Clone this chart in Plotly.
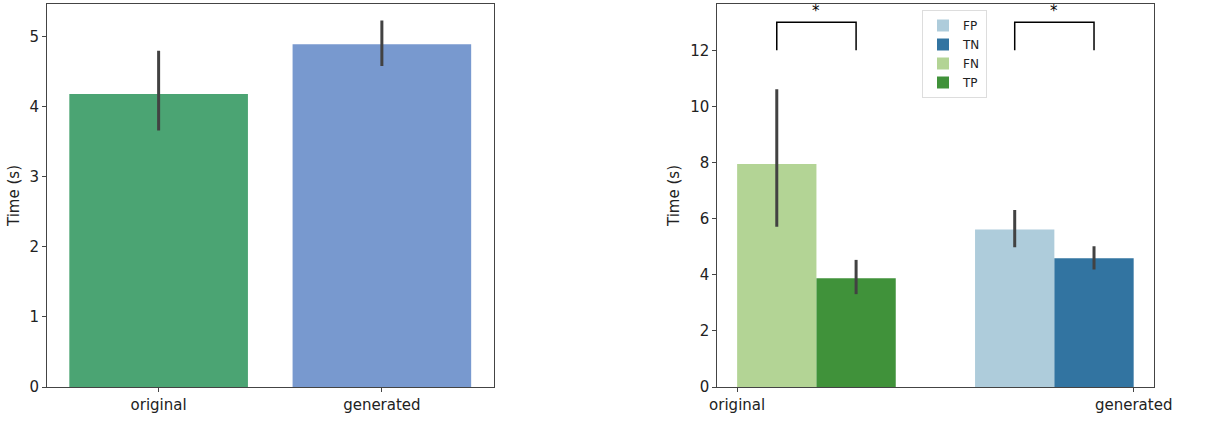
import plotly.graph_objects as go

# ---- data ----
left_categories = ["original", "generated"]
left_values = [4.18, 4.89]
left_err_hi = [4.80, 5.23]
left_err_lo = [3.66, 4.58]
left_colors = ["#4ba473", "#7899cf"]

right_categories = ["original", "generated"]
hue_order = ["FP", "TN", "FN", "TP"]
hue_category = {"FP": "generated", "TN": "generated", "FN": "original", "TP": "original"}
hue_values = {"FP": 5.61, "TN": 4.59, "FN": 7.95, "TP": 3.88}
hue_err_hi = {"FP": 6.31, "TN": 5.02, "FN": 10.61, "TP": 4.53}
hue_err_lo = {"FP": 4.98, "TN": 4.19, "FN": 5.71, "TP": 3.31}
hue_colors = {"FP": "#aeccdb", "TN": "#3274a1", "FN": "#b3d495", "TP": "#40923a"}
sig_pairs = [("FN", "TP"), ("FP", "TN")]
sig_low, sig_high = 12, 13

W, H = 1231, 421
FONT = "DejaVu Sans"
ERRC = "#424242"

def px_x(a, b):
    return [a / W, b / W]

def px_y(top, bottom):
    return [(H - bottom) / H, (H - top) / H]

fig = go.Figure()

# left plot
lx = list(range(len(left_categories)))
fig.add_trace(go.Bar(
    x=lx, y=left_values, width=0.8, marker=dict(color=left_colors, line=dict(width=0)),
    error_y=dict(type="data", symmetric=False,
                 array=[h - v for h, v in zip(left_err_hi, left_values)],
                 arrayminus=[v - l for l, v in zip(left_err_lo, left_values)],
                 color=ERRC, thickness=3, width=0),
    showlegend=False, xaxis="x", yaxis="y"))

# right plot (dodged bars, seaborn-like)
n_h = len(hue_order)
bw = 0.8 / n_h
def hue_x(h):
    ci = right_categories.index(hue_category[h])
    hi = hue_order.index(h)
    return ci + (hi - (n_h - 1) / 2) * bw

for h in hue_order:
    v = hue_values[h]
    fig.add_trace(go.Bar(
        x=[hue_x(h)], y=[v], width=bw, name=h,
        marker=dict(color=hue_colors[h], line=dict(width=0)),
        error_y=dict(type="data", symmetric=False,
                     array=[hue_err_hi[h] - v], arrayminus=[v - hue_err_lo[h]],
                     color=ERRC, thickness=3, width=0),
        xaxis="x2", yaxis="y2"))

for a, b in sig_pairs:
    xa, xb = hue_x(a), hue_x(b)
    fig.add_trace(go.Scatter(
        x=[xa, xa, xb, xb], y=[sig_low, sig_high, sig_high, sig_low],
        mode="lines", line=dict(color="black", width=1.5),
        showlegend=False, hoverinfo="skip", xaxis="x2", yaxis="y2"))
    fig.add_annotation(x=(xa + xb) / 2, y=sig_high, xref="x2", yref="y2",
                       text="*", showarrow=False, yanchor="bottom", yshift=0,
                       font=dict(size=15, color="black", family=FONT))

axis_common = dict(showline=True, linecolor="#444444", linewidth=1, mirror=True,
                   ticks="outside", ticklen=4, tickcolor="#444444",
                   showgrid=False, zeroline=False, automargin=False,
                   tickfont=dict(family=FONT, size=15, color="#222222"))

fig.update_layout(
    width=W, height=H, autosize=False,
    margin=dict(l=0, r=0, t=0, b=0),
    paper_bgcolor="white", plot_bgcolor="white",
    barmode="overlay",
    font=dict(family=FONT),
    xaxis=dict(domain=px_x(47, 493.5), range=[-0.5, 1.5],
               tickvals=lx, ticktext=left_categories, anchor="y", **axis_common),
    yaxis=dict(domain=px_y(4, 387), range=[0, 5.466], tickvals=[0, 1, 2, 3, 4, 5],
               anchor="x",
               title=dict(text="Time (s)", font=dict(family=FONT, size=15, color="#222222"), standoff=6),
               **axis_common),
    xaxis2=dict(domain=px_x(717.3, 1153.5), range=[-0.05, 1.05],
                tickvals=list(range(len(right_categories))), ticktext=right_categories,
                anchor="y2", **axis_common),
    yaxis2=dict(domain=px_y(4, 387), range=[0, 13.65], tickvals=[0, 2, 4, 6, 8, 10, 12],
                anchor="x2",
                title=dict(text="Time (s)", font=dict(family=FONT, size=15, color="#222222"), standoff=6),
                **axis_common),
    legend=dict(x=922 / W, y=1 - 10 / H, xanchor="left", yanchor="top",
                bgcolor="white", bordercolor="#dddddd", borderwidth=1,
                font=dict(family=FONT, size=12, color="#222222"),
                tracegroupgap=0, itemwidth=30),
)

fig.write_html("out.html", config={"displayModeBar": False},
               post_script="document.body.style.margin='0';document.body.style.overflow='hidden';")
